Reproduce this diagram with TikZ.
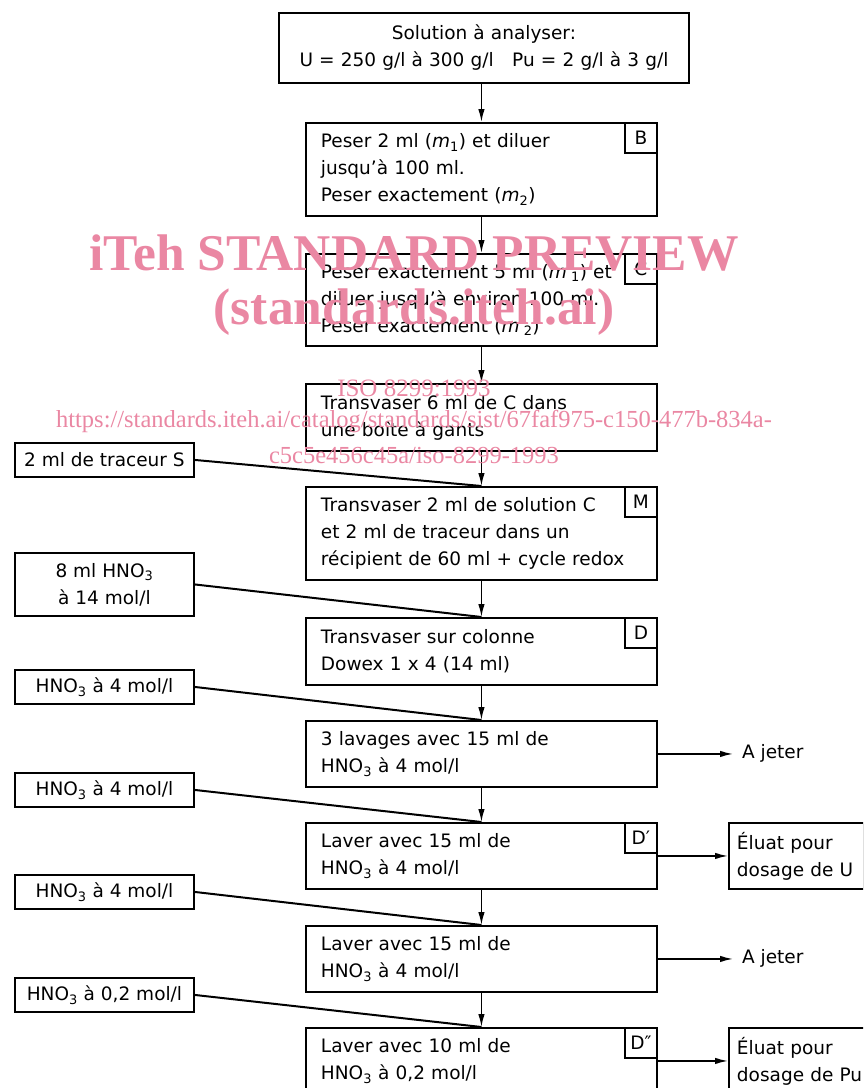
\documentclass[tikz,border=0pt]{standalone}
\usepackage{fontspec}
\setmainfont{DejaVu Sans}
\newfontfamily\wmfont{Liberation Serif}
\usetikzlibrary{arrows.meta}
\definecolor{wmpink}{RGB}{234,135,163}
\tikzset{
  every node/.style={font=\fontsize{18.5}{27}\selectfont},
  box/.style={draw, line width=1.9pt, rectangle, anchor=north west, inner xsep=15pt, inner ysep=0pt, align=left},
  lab/.style={draw, line width=1.9pt, rectangle, anchor=north east, minimum width=32pt, minimum height=30pt, inner sep=0pt},
  side/.style={draw, line width=1.9pt, rectangle, anchor=north west, minimum width=179pt, inner sep=0pt, align=center},
  arr/.style={line width=1.5pt, -{Latex[length=13pt,width=6.5pt]}},
  feed/.style={line width=2pt},
  wm/.style={text=wmpink, inner sep=0pt}
}
\begin{document}
\begin{tikzpicture}[x=1pt,y=-1pt]
\path[use as bounding box, clip] (0,0) rectangle (863,1088);

% main column
\node[box, minimum width=410pt, minimum height=70pt, align=center, text width=380pt] (top) at (278,12)
  {Solution à analyser:\\U = 250 g/l à 300 g/l\ \ \ Pu = 2 g/l à 3 g/l};
\node[box, minimum width=351pt, minimum height=93pt, text width=321pt] (B) at (305,122)
  {Peser 2 ml (\textit{m}\textsubscript{1}) et diluer\\jusqu’à 100 ml.\\Peser exactement (\textit{m}\textsubscript{2})};
\node[lab] (Bl) at (B.north east) {B};
\node[box, minimum width=351pt, minimum height=92pt, text width=321pt] (C) at (305,253)
  {Peser exactement 5 ml (\textit{m}′\textsubscript{1}) et\\diluer jusqu’à environ 100 ml.\\Peser exactement (\textit{m}′\textsubscript{2})};
\node[lab] (Cl) at (C.north east) {C};
\node[box, minimum width=351pt, minimum height=67pt, text width=321pt] (G) at (305,383)
  {Transvaser 6 ml de C dans\\une boîte à gants};
\node[box, minimum width=351pt, minimum height=93pt, text width=321pt] (M) at (305,486)
  {Transvaser 2 ml de solution C\\et 2 ml de traceur dans un\\récipient de 60 ml + cycle redox};
\node[lab] (Ml) at (M.north east) {M};
\node[box, minimum width=351pt, minimum height=67pt, text width=321pt] (D) at (305,617)
  {Transvaser sur colonne\\Dowex 1 x 4 (14 ml)};
\node[lab] (Dl) at (D.north east) {D};
\node[box, minimum width=351pt, minimum height=66pt, text width=321pt] (L1) at (305,720)
  {3 lavages avec 15 ml de\\HNO\textsubscript{3} à 4 mol/l};
\node[box, minimum width=351pt, minimum height=66pt, text width=321pt] (L2) at (305,822)
  {Laver avec 15 ml de\\HNO\textsubscript{3} à 4 mol/l};
\node[lab] (L2l) at (L2.north east) {D′};
\node[box, minimum width=351pt, minimum height=66pt, text width=321pt] (L3) at (305,925)
  {Laver avec 15 ml de\\HNO\textsubscript{3} à 4 mol/l};
\node[box, minimum width=351pt, minimum height=66pt, text width=321pt] (L4) at (305,1027)
  {Laver avec 10 ml de\\HNO\textsubscript{3} à 0,2 mol/l};
\node[lab] (L4l) at (L4.north east) {D″};

% side inputs
\node[side, minimum height=34pt] (S1) at (14,442) {2 ml de traceur S};
\node[side, minimum height=63pt] (S2) at (14,552) {8 ml HNO\textsubscript{3}\\à 14 mol/l};
\node[side, minimum height=34pt] (S3) at (14,669) {HNO\textsubscript{3} à 4 mol/l};
\node[side, minimum height=34pt] (S4) at (14,772) {HNO\textsubscript{3} à 4 mol/l};
\node[side, minimum height=34pt] (S5) at (14,874) {HNO\textsubscript{3} à 4 mol/l};
\node[side, minimum height=34pt] (S6) at (14,977) {HNO\textsubscript{3} à 0,2 mol/l};

% outputs
\node[anchor=west, inner sep=0pt] (J1) at (742,753) {A jeter};
\node[anchor=west, inner sep=0pt] (J2) at (742,958) {A jeter};
\node[box, minimum width=135pt, minimum height=66pt, inner xsep=8pt, text width=119pt] (E1) at (728,822)
  {Éluat pour\\dosage de U};
\node[box, minimum width=150pt, minimum height=66pt, inner xsep=8pt, text width=134pt] (E2) at (728,1027)
  {Éluat pour\\dosage de Pu};

% connectors
\draw[arr] (B.north |- top.south) -- (B.north);
\draw[arr] (B.south) -- (C.north);
\draw[arr] (C.south) -- (G.north);
\draw[arr] (G.south) -- (M.north);
\draw[arr] (M.south) -- (D.north);
\draw[arr] (D.south) -- (L1.north);
\draw[arr] (L1.south) -- (L2.north);
\draw[arr] (L2.south) -- (L3.north);
\draw[arr] (L3.south) -- (L4.north);
\draw[feed] (S1.east) -- (M.north);
\draw[feed] (S2.east) -- (D.north);
\draw[feed] (S3.east) -- (L1.north);
\draw[feed] (S4.east) -- (L2.north);
\draw[feed] (S5.east) -- (L3.north);
\draw[feed] (S6.east) -- (L4.north);
\draw[arr] (L1.east) -- ([xshift=-9pt]L1.east -| J1.west);
\draw[arr] (L3.east) -- ([xshift=-9pt]L3.east -| J2.west);
\draw[arr] (L2.east) -- (L2.east -| E1.west);
\draw[arr] (L4.east) -- (L4.east -| E2.west);

% watermark
\node[wm, font=\wmfont\bfseries\fontsize{51.5}{56}\selectfont] (w1) at (414,253) {iTeh STANDARD PREVIEW};
\node[wm, font=\wmfont\bfseries\fontsize{51.5}{56}\selectfont] (w2) at (414,312) {(standards.iteh.ai)};
\node[wm, font=\wmfont\fontsize{25}{27}\selectfont] (w3) at (414,388) {ISO 8299:1993};
\node[wm, font=\wmfont\fontsize{24.5}{27}\selectfont] (w4) at (414,422) {https://standards.iteh.ai/catalog/standards/sist/67faf975-c150-477b-834a-};
\node[wm, font=\wmfont\fontsize{24.5}{27}\selectfont] (w5) at (414,455) {c5c5e456c45a/iso-8299-1993};
\end{tikzpicture}
\end{document}
